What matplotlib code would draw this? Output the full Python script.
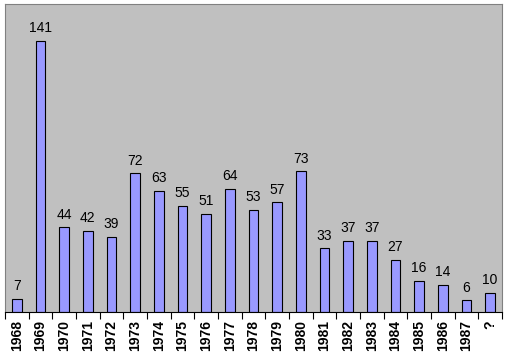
import matplotlib
matplotlib.use("Agg")
import matplotlib.pyplot as plt
import numpy as np

years = ['1968', '1969', '1970', '1971', '1972', '1973', '1974', '1975', '1976',
         '1977', '1978', '1979', '1980', '1981', '1982', '1983', '1984', '1985',
         '1986', '1987', '?']
counts = [7, 141, 44, 42, 39, 72, 63, 55, 51, 64, 53, 57, 73, 33, 37, 37, 27,
          16, 14, 6, 10]

W, H = 506, 359
fig = plt.figure(figsize=(W / 100, H / 100), dpi=100)
fig.set_facecolor('white')
ax = fig.add_axes([5 / W, (H - 312) / H, 497 / W, 308 / H])
ax.set_facecolor('#c0c0c0')

x = np.arange(len(years))
ax.bar(x, counts, width=0.42, color='#9999ff', edgecolor='black', linewidth=0.8)
for xi, c in zip(x, counts):
    ax.text(xi, c + 3, str(c), ha='center', va='bottom', fontsize=10,
            family='Liberation Sans')

ax.set_xlim(-0.5, len(years) - 0.5)
ax.set_ylim(0, 160)
ax.set_yticks([])
ax.set_xticks(x)
ax.set_xticklabels(years, rotation=90, fontsize=10, fontweight='bold',
                   family='Liberation Sans')
ax.set_xticks(np.arange(-0.5, len(years)), minor=True)
ax.tick_params(axis='x', which='major', length=0, pad=6)
ax.tick_params(axis='x', which='minor', length=5, width=0.8, direction='out')

for side in ['top', 'right', 'left']:
    ax.spines[side].set_color('#808080')
    ax.spines[side].set_linewidth(0.8)
ax.spines['bottom'].set_color('black')
ax.spines['bottom'].set_linewidth(0.8)

fig.savefig('out.png', dpi=100)
